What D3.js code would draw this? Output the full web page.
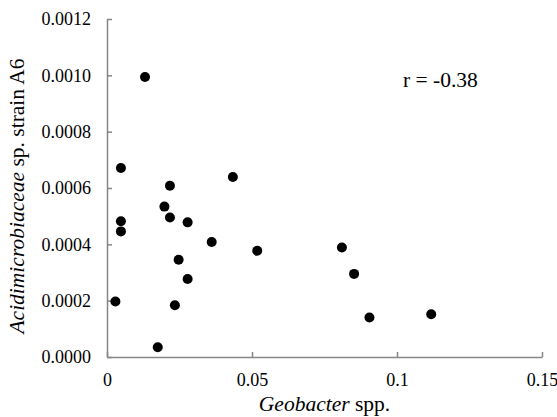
<!DOCTYPE html>
<html>
<head>
<meta charset="utf-8">
<script src="https://cdn.jsdelivr.net/npm/d3@7"></script>
</head>
<body style="margin:0; background:#fff">
<svg width="557" height="417"></svg>
<script>
// Geobacter spp. relative abundance (x) vs Acidimicrobiaceae sp. strain A6 (y)
const geobacter = [0.0131, 0.0048, 0.0217, 0.0434, 0.0198, 0.0217, 0.0278, 0.0048, 0.0048, 0.0361,
  0.0518, 0.0247, 0.0278, 0.0029, 0.0234, 0.0175, 0.081, 0.0852, 0.0905, 0.1118]
const acidimicrobiaceae = [0.000994, 0.000671, 0.000608, 0.000639, 0.000534, 0.000495, 0.000478, 0.000482, 0.000446, 0.000408,
  0.000377, 0.000345, 0.000277, 0.000197, 0.000184, 0.0000345, 0.000389, 0.000295, 0.00014, 0.000152]
const xTicks = [0, 0.05, 0.1, 0.15]
const yTicks = [0, 0.0002, 0.0004, 0.0006, 0.0008, 0.001, 0.0012]
const rLabel = 'r = -0.38'

const serif = 'Liberation Serif'
const svg = d3.select('svg')
const plotLeft = 107, plotRight = 542, plotTop = 19, plotBottom = 357

const x = d3.scaleLinear().domain([0, 0.15]).range([plotLeft, plotRight])
const y = d3.scaleLinear().domain([0, 0.0012]).range([plotBottom, plotTop])

// axes, ticks pointing inward like the original
const xAxis = svg.append('g')
  .attr('transform', `translate(0,${plotBottom})`)
  .call(d3.axisBottom(x).tickValues(xTicks).tickSizeInner(-5).tickSizeOuter(0)
    .tickFormat(d => d === 0 ? '0' : String(d)))
const yAxis = svg.append('g')
  .attr('transform', `translate(${plotLeft},0)`)
  .call(d3.axisLeft(y).tickValues(yTicks).tickSizeInner(-5).tickSizeOuter(0)
    .tickFormat(d3.format('.4f')))

for (const ax of [xAxis, yAxis]) {
  ax.attr('font-family', serif).attr('font-size', 18)
  ax.select('.domain').attr('stroke', '#868686').attr('stroke-width', 1.5)
  ax.selectAll('.tick line').attr('stroke', '#868686').attr('stroke-width', 1.5)
}
xAxis.selectAll('.tick text').attr('y', 16).attr('dy', '0.71em')
yAxis.selectAll('.tick text').attr('x', -16)

// points
svg.append('g')
  .selectAll('circle')
  .data(geobacter.map((g, i) => [g, acidimicrobiaceae[i]]))
  .enter()
  .append('circle')
  .attr('cx', d => x(d[0]))
  .attr('cy', d => y(d[1]))
  .attr('r', 5)
  .attr('fill', '#000')

// correlation label
svg.append('text')
  .attr('x', 403).attr('y', 87)
  .attr('font-family', serif)
  .attr('font-size', 21.5)
  .text(rLabel)

// axis titles
const xt = svg.append('text')
  .attr('x', (plotLeft + plotRight) / 2).attr('y', 411)
  .attr('text-anchor', 'middle')
  .attr('font-family', serif)
  .attr('font-size', 21.5)
xt.append('tspan').attr('font-style', 'italic').text('Geobacter')
xt.append('tspan').text(' spp.')

const yt = svg.append('text')
  .attr('transform', 'translate(24,196) rotate(-90)')
  .attr('text-anchor', 'middle')
  .attr('font-family', serif)
  .attr('font-size', 21.5)
yt.append('tspan').attr('font-style', 'italic').text('Acidimicrobiaceae')
yt.append('tspan').text(' sp. strain A6')
</script>
</body>
</html>
